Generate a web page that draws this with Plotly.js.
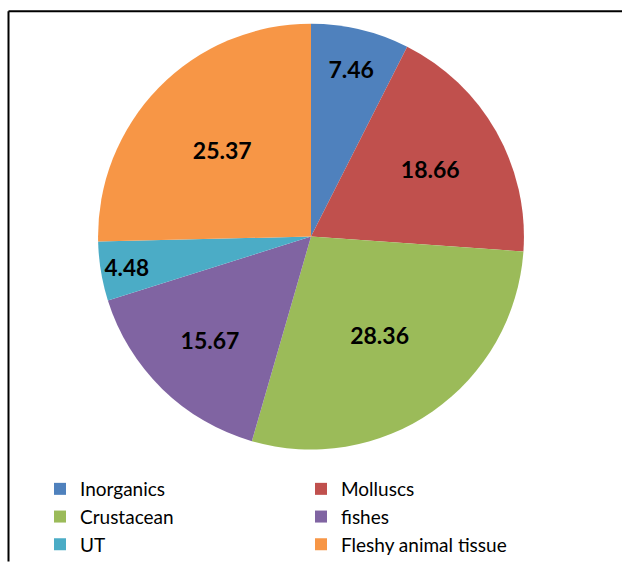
<!DOCTYPE html>
<html>
<head>
<meta charset="utf-8">
<script src="https://cdn.plot.ly/plotly-3.0.1.min.js"></script>
<style>html,body{margin:0;padding:0;background:#fff;}#chart{width:622px;height:564px;}</style>
</head>
<body>
<div id="chart"></div>
<script>
const categories = ["Inorganics", "Molluscs", "Crustacean", "fishes", "UT", "Fleshy animal tissue"];
const values = [7.46, 18.66, 28.36, 15.67, 4.48, 25.37];
const colors = ["#4F81BD", "#C0504D", "#9BBB59", "#8064A2", "#4BACC6", "#F79646"];

const W = 622, H = 564;
const cx = 311, cy = 240, R = 216;

const trace = {
  type: "pie",
  labels: categories,
  values: values,
  sort: false,
  direction: "clockwise",
  rotation: 0,
  marker: {colors: colors, line: {width: 0}},
  texttemplate: "%{value:.2f}",
  textposition: "inside",
  insidetextorientation: "horizontal",
  textfont: {family: "Lato, 'Liberation Sans', sans-serif", size: 23, color: "#000", weight: "bold"},
  hoverinfo: "label+value",
  domain: {x: [(cx - R) / W, (cx + R) / W], y: [(H - cy - R) / H, (H - cy + R) / H]}
};

const layout = {
  width: W, height: H,
  margin: {l: 0, r: 0, t: 0, b: 0},
  paper_bgcolor: "#fff",
  showlegend: true,
  legend: {
    orientation: "h",
    x: 40 / W, xanchor: "left",
    y: 1 - 477 / H, yanchor: "top",
    entrywidth: 216, entrywidthmode: "pixels",
    font: {family: "Lato, 'Liberation Sans', sans-serif", size: 19, color: "#000"},
    traceorder: "normal",
    bgcolor: "rgba(0,0,0,0)"
  },
  shapes: [
    {type: "line", xref: "paper", yref: "paper", x0: 8.5 / W, x1: 1.01, y0: 1 - 11.5 / H, y1: 1 - 11.5 / H, line: {color: "#000", width: 2}},
    {type: "line", xref: "paper", yref: "paper", x0: 8.5 / W, x1: 8.5 / W, y0: 1 - 11.5 / H, y1: -0.01, line: {color: "#000", width: 2}}
  ]
};

Plotly.newPlot("chart", [trace], layout, {displayModeBar: false, staticPlot: true});
</script>
</body>
</html>
